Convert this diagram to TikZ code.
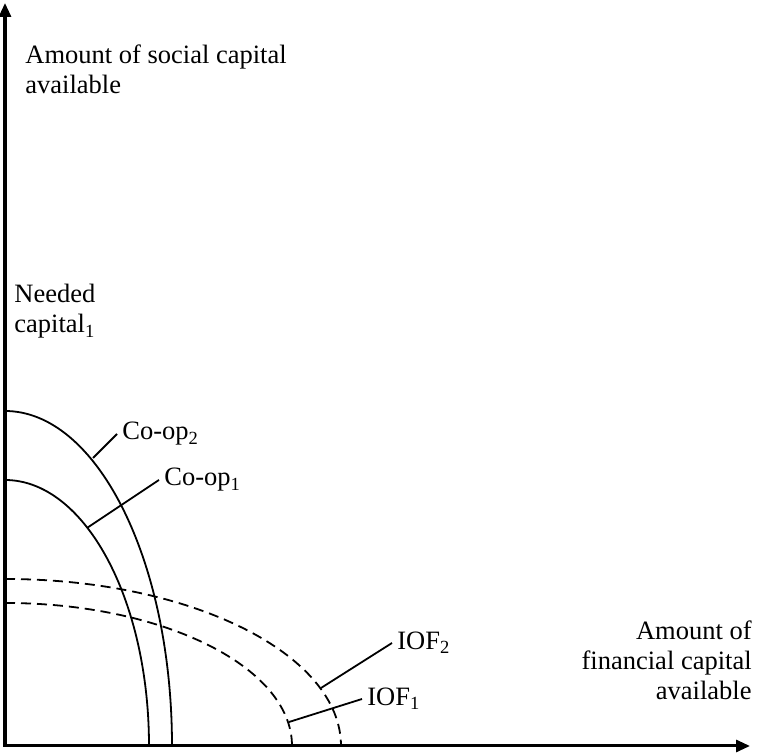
\documentclass[tikz,border=0pt]{standalone}
\usepackage{fontspec}
\setmainfont{Liberation Serif}
\usepackage{tikz}
\usetikzlibrary{arrows.meta, positioning}

\begin{document}
\begin{tikzpicture}[x=0.5pt, y=0.5pt,
    axis/.style={line width=1.5pt,
                 {Triangle[length=7pt, width=6pt]}-{Triangle[length=7pt, width=6pt]}},
    coop/.style={line width=0.9pt},
    iof/.style={line width=0.9pt, dash pattern=on 5pt off 3pt},
    lead/.style={line width=0.9pt},
    txt/.style={inner sep=0pt, font=\fontsize{13.25}{15}\selectfont},
    lbl/.style={txt, inner xsep=2.5pt, anchor=west}
  ]
  \useasboundingbox (0,0) rectangle (757,755);

  % axes
  \coordinate (O) at (5,9);
  \coordinate (ytop) at (5,752);
  \coordinate (xend) at (750,9);
  \draw[axis] (ytop) -- (O) -- (xend);

  \node[txt, anchor=north west, align=left] (ylab) at (25,711)
       {Amount of social capital\\available};
  \node[txt, anchor=north east, align=right] (xlab) at (752,135)
       {Amount of\\financial capital\\available};
  \node[txt, anchor=north west, align=left] (need) at (14,471)
       {Needed\\capital\textsubscript{1}};

  % frontiers
  \draw[coop] (5,344) arc[start angle=90, end angle=0, x radius=167, y radius=335];
  \draw[coop] (5,275) arc[start angle=90, end angle=0, x radius=144, y radius=266];
  \draw[iof]  (5,176) arc[start angle=90, end angle=0, x radius=336, y radius=167];
  \draw[iof]  (5,152) arc[start angle=90, end angle=0, x radius=287, y radius=143];

  % labels
  \node[lbl] (coop2) at (117,321) {Co-op\textsubscript{2}};
  \node[lbl] (coop1) at (159,275) {Co-op\textsubscript{1}};
  \node[lbl] (iof2)  at (392,112) {IOF\textsubscript{2}};
  \node[lbl] (iof1)  at (362,56)  {IOF\textsubscript{1}};

  \coordinate (c2) at (93,297);
  \coordinate (c1) at (87,227);
  \coordinate (i2) at (321,67);
  \coordinate (i1) at (289,33);
  \draw[lead] (c2) -- (coop2.west);
  \draw[lead] (c1) -- (coop1.west);
  \draw[lead] (i2) -- (iof2.west);
  \draw[lead] (i1) -- (iof1.west);
\end{tikzpicture}
\end{document}
